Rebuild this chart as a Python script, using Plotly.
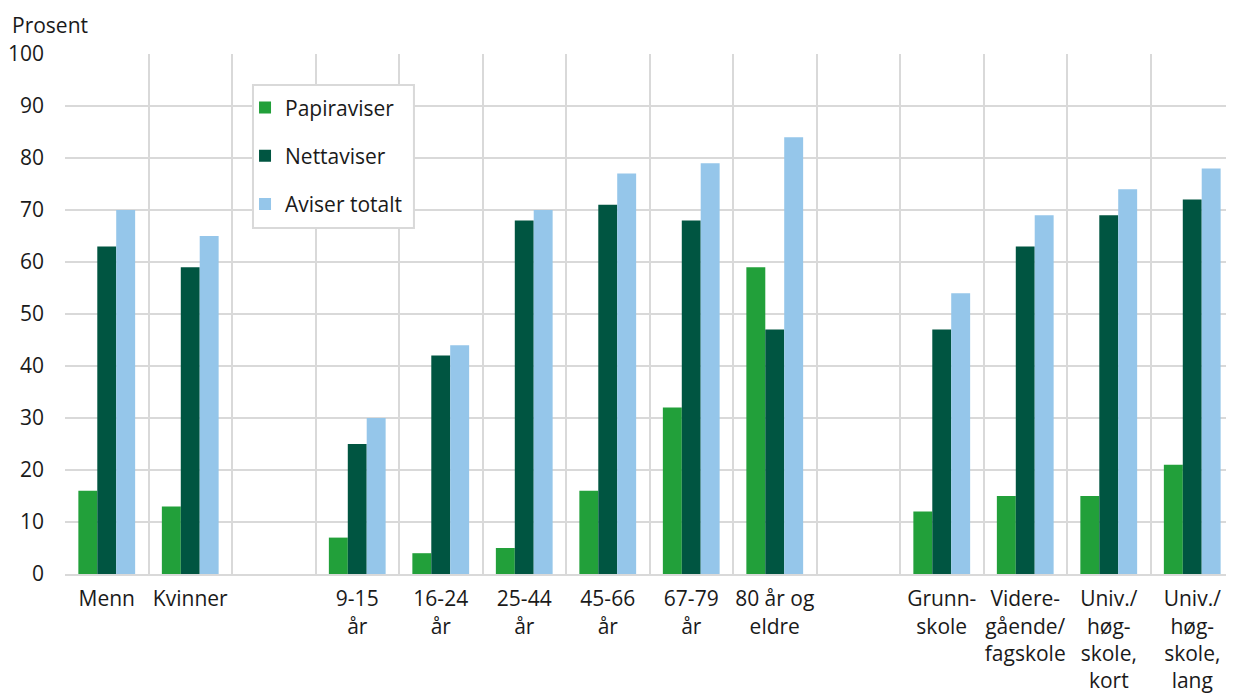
import plotly.graph_objects as go

categories = ["Menn", "Kvinner", " ", "9-15<br>år", "16-24<br>år", "25-44<br>år", "45-66<br>år",
              "67-79<br>år", "80 år og<br>eldre", "  ", "Grunn-<br>skole",
              "Videre-<br>gående/<br>fagskole", "Univ./<br>høg-<br>skole,<br>kort",
              "Univ./<br>høg-<br>skole,<br>lang"]
papiraviser = [16, 13, None, 7, 4, 5, 16, 32, 59, None, 12, 15, 15, 21]
nettaviser = [63, 59, None, 25, 42, 68, 71, 68, 47, None, 47, 63, 69, 72]
aviser_totalt = [70, 65, None, 30, 44, 70, 77, 79, 84, None, 54, 69, 74, 78]
series_names = ["Papiraviser", "Nettaviser", "Aviser totalt"]
colors = ["#22a03a", "#005541", "#95c6ea"]

fig = go.Figure()
for i, (name, vals) in enumerate(zip(series_names, [papiraviser, nettaviser, aviser_totalt])):
    fig.add_trace(go.Bar(x=categories, y=vals, name=name, legendgroup=name,
                         marker=dict(color=colors[i], line=dict(width=0))))

font_family = "Open Sans, sans-serif"
fig.update_layout(
    width=1226, height=690,
    margin=dict(l=57, r=0, t=46, b=124),
    paper_bgcolor="white", plot_bgcolor="white",
    font=dict(family=font_family, size=21, color="#1a1a1a"),
    barmode="group", bargap=0.32, bargroupgap=0,
    legend=dict(x=0.154, y=0.936, xanchor="left", yanchor="top",
                borderwidth=0, bgcolor="rgba(0,0,0,0)",
                font=dict(size=21), tracegroupgap=18,
                traceorder="grouped"),
    xaxis=dict(type="category", categoryorder="array", categoryarray=categories,
               tickson="boundaries", showgrid=True, gridcolor="#d9d9d9", gridwidth=2,
               ticks="", showline=True, linecolor="#d9d9d9", linewidth=2,
               tickfont=dict(size=21), tickangle=0, automargin=False,
               ticklabelstandoff=5),
    yaxis=dict(range=[0, 100], dtick=10, showgrid=True, gridcolor="#d9d9d9", gridwidth=2,
               zeroline=False, showline=False, ticks="", ticklabelstandoff=20,
               tickfont=dict(size=21), automargin=False),
    shapes=[dict(type="rect", xref="paper", yref="paper",
                 x0=0.1608, x1=0.2985, y0=0.6654, y1=0.9404,
                 fillcolor="white", line=dict(color="#d9d9d9", width=2), layer="above")],
    annotations=[dict(text="Prosent", xref="paper", yref="paper", x=-0.047, y=1.087,
                      xanchor="left", yanchor="top", showarrow=False,
                      font=dict(size=21))],
)

fig.write_html("out.html")
